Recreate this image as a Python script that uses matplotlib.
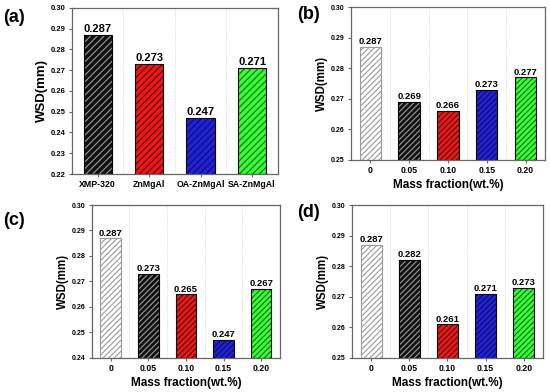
import matplotlib
matplotlib.use('Agg')
import matplotlib.pyplot as plt

plt.rcParams['font.family'] = ['Liberation Sans', 'DejaVu Sans']
plt.rcParams['font.weight'] = 'bold'
plt.rcParams['hatch.linewidth'] = 0.8

# data
cats_a = ['XMP-320', 'ZnMgAl', 'OA-ZnMgAl', 'SA-ZnMgAl']
vals_a = [0.287, 0.273, 0.247, 0.271]
fracs = ['0', '0.05', '0.10', '0.15', '0.20']
vals_b = [0.287, 0.269, 0.266, 0.273, 0.277]
vals_c = [0.287, 0.273, 0.265, 0.247, 0.267]
vals_d = [0.287, 0.282, 0.261, 0.271, 0.273]

face_a = ['#111111', '#ff1010', '#2020e0', '#33ff33']
hatch_a = ['#9a9a9a', '#222222', '#111144', '#1d661d']
face_f = ['#ffffff', '#111111', '#ff1010', '#2020e0', '#33ff33']
hatch_f = ['#9a9a9a', '#9a9a9a', '#222222', '#111144', '#1d661d']
edge_f = ['#9a9a9a', '#000000', '#000000', '#000000', '#000000']

spine_col = '#666666'


def draw(ax, labels, vals, faces, hatches, edges, ylim, hatch, val_fs, ytick_fs, xtick_fs, xlabel):
    x = list(range(len(vals)))
    base = ylim[0]
    heights = [v - base for v in vals]
    ax.bar(x, heights, bottom=base, width=0.55, color=faces, edgecolor=hatches,
           linewidth=0, hatch=hatch, zorder=2)
    ax.bar(x, heights, bottom=base, width=0.55, fill=False,
           edgecolor=edges, linewidth=0.8, zorder=3)
    for xi, v in zip(x, vals):
        ax.text(xi, v + (ylim[1] - ylim[0]) * 0.004, f'{v:.3f}', ha='center', va='bottom',
                fontsize=val_fs, fontweight='bold', zorder=4)
    ax.set_xlim(-0.5, len(vals) - 0.5)
    ax.set_ylim(*ylim)
    n = int(round((ylim[1] - ylim[0]) / 0.01))
    ticks = [round(ylim[0] + 0.01 * i, 2) for i in range(n + 1)]
    ax.set_yticks(ticks)
    ax.set_yticklabels([f'{t:.2f}' for t in ticks], fontsize=ytick_fs, fontweight='bold')
    ax.set_xticks(x)
    ax.set_xticklabels(labels, fontsize=xtick_fs, fontweight='bold')
    for b in range(len(vals) - 1):
        ax.axvline(b + 0.5, color='#cccccc', linestyle=':', linewidth=0.6, zorder=0)
    for s in ax.spines.values():
        s.set_color(spine_col)
        s.set_linewidth(0.9)
    ax.tick_params(axis='both', direction='out', length=2.5, width=0.8, color=spine_col, pad=2)
    ax.set_ylabel('WSD(mm)', fontsize=val_fs + 1.5, fontweight='bold', labelpad=2)
    if xlabel:
        ax.set_xlabel('Mass fraction(wt.%)', fontsize=8.5, fontweight='bold', labelpad=3)


fig = plt.figure(figsize=(5.5, 3.92), dpi=100)

ax_a = fig.add_axes([0.131, 0.556, 0.374, 0.424])
draw(ax_a, cats_a, vals_a, face_a, hatch_a, ['#000000'] * 4, (0.22, 0.30), '/////',
     8, 5.5, 6.3, False)

ax_b = fig.add_axes([0.638, 0.592, 0.353, 0.390])
draw(ax_b, fracs, vals_b, face_f, hatch_f, edge_f, (0.25, 0.30), '//////',
     6.8, 5, 6.3, True)

ax_c = fig.add_axes([0.167, 0.087, 0.342, 0.390])
draw(ax_c, fracs, vals_c, face_f, hatch_f, edge_f, (0.24, 0.30), '//////',
     6.8, 5, 6.3, True)

ax_d = fig.add_axes([0.640, 0.087, 0.347, 0.390])
draw(ax_d, fracs, vals_d, face_f, hatch_f, edge_f, (0.25, 0.30), '//////',
     6.8, 5, 6.3, True)

fig.text(0.005, 0.955, '(a)', fontsize=13, fontweight='bold', va='center')
fig.text(0.540, 0.962, '(b)', fontsize=13, fontweight='bold', va='center')
fig.text(0.005, 0.437, '(c)', fontsize=13, fontweight='bold', va='center')
fig.text(0.540, 0.457, '(d)', fontsize=13, fontweight='bold', va='center')

fig.savefig('out.png', dpi=100)
